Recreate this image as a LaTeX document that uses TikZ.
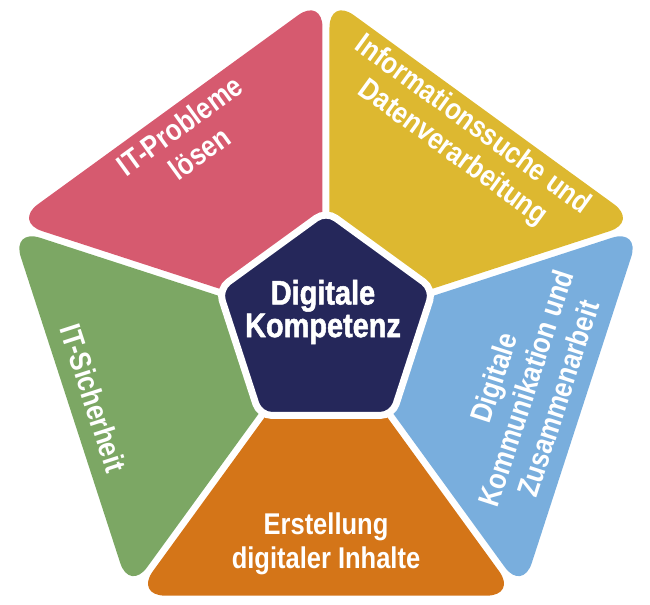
\documentclass[tikz,border=0pt]{standalone}
\usepackage{fontspec}
\usepackage{tikz}
\usetikzlibrary{calc}
\newfontfamily\condsans{Liberation Sans}[FakeStretch=0.85]
\newfontfamily\kernsans{Liberation Sans}[FakeStretch=0.85,FakeBold=1.5]
\definecolor{segRed}{HTML}{D65A6F}
\definecolor{segYellow}{HTML}{DDB830}
\definecolor{segBlue}{HTML}{79AEDD}
\definecolor{segOrange}{HTML}{D47518}
\definecolor{segGreen}{HTML}{7CA764}
\definecolor{kernNavy}{HTML}{25275A}

\begin{document}
\begin{tikzpicture}[x=0.5pt,y=0.5pt,
 seg/.style={rounded corners=15pt},
 lbl/.style={text=white,align=center,inner sep=0pt,font=\condsans\bfseries\fontsize{15}{17}\selectfont}]
\useasboundingbox (-326,-278) rectangle (324,327);
\fill[segRed,seg] ($(90:329.5)+(180:3.5)$) -- ($(162:329.5)+(72:3.5)$) -- ($(162:60)+(72:3.5)$) -- ($(90:60)+(180:3.5)$) -- cycle;
\fill[segYellow,seg] ($(18:329.5)+(108:3.5)$) -- ($(90:329.5)+(0:3.5)$) -- ($(90:60)+(0:3.5)$) -- ($(18:60)+(108:3.5)$) -- cycle;
\fill[segBlue,seg] ($(-54:329.5)+(36:3.5)$) -- ($(18:329.5)+(-72:3.5)$) -- ($(18:60)+(-72:3.5)$) -- ($(-54:60)+(36:3.5)$) -- cycle;
\fill[segOrange,seg] ($(234:329.5)+(324:3.5)$) -- ($(306:329.5)+(216:3.5)$) -- ($(306:60)+(216:3.5)$) -- ($(234:60)+(324:3.5)$) -- cycle;
\fill[segGreen,seg] ($(162:329.5)+(252:3.5)$) -- ($(234:329.5)+(144:3.5)$) -- ($(234:60)+(144:3.5)$) -- ($(162:60)+(252:3.5)$) -- cycle;
\filldraw[fill=kernNavy,draw=white,line width=3.5pt,rounded corners=6pt] ($(0,3)+(90:113)$) -- ($(0,3)+(162:113)$) -- ($(0,3)+(234:113)$) -- ($(0,3)+(306:113)$) -- ($(0,3)+(18:113)$) -- cycle;
\node[lbl,font=\kernsans\bfseries\fontsize{17}{15}\selectfont] (kern) at (-3,15) {Digitale\\Kompetenz};
\node[lbl,rotate=36] (probleme) at (126:232) {IT-Probleme\\lösen};
\node[lbl,rotate=-36] (suche) at (54:232) {Informationssuche und\\Datenverarbeitung};
\node[lbl,rotate=72] (kommunikation) at (-17:209) {Digitale\\Kommunikation und\\Zusammenarbeit};
\node[lbl] (erstellung) at (0,-217) {Erstellung\\digitaler Inhalte};
\node[lbl,rotate=-72] (sicherheit) at (197:243) {IT-Sicherheit};
\end{tikzpicture}
\end{document}
